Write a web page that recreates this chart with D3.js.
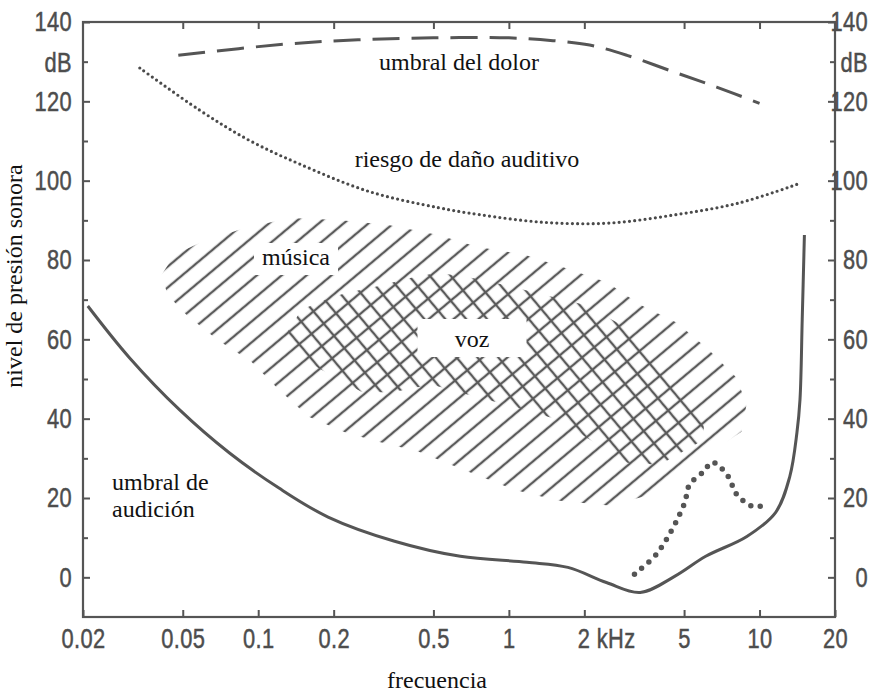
<!DOCTYPE html>
<html>
<head>
<meta charset="utf-8">
<script src="https://cdn.jsdelivr.net/npm/d3@7"></script>
<style>
    body { margin: 0; background: #fff; }
    .axis text { font-family: "Liberation Sans", Arial, sans-serif; font-size: 28px; fill: #4d4d4d; stroke: #4d4d4d; stroke-width: 0.5px; letter-spacing: 0.5px; }
    .axis line { stroke: #555; stroke-width: 2; }
    .lbl { font-family: "Liberation Serif", "Times New Roman", serif; font-size: 24px; fill: #111; }
</style>
</head>
<body>
<div id="chart"></div>
<script>
// ---- data (kHz, dB) ----
const xTicks = [0.02, 0.05, 0.1, 0.2, 0.5, 1, 2, 5, 10, 20];
const xTickLabels = ["0.02", "0.05", "0.1", "0.2", "0.5", "1", "2 kHz", "5", "10", "20"];
const yTicks = [0, 20, 40, 60, 80, 100, 120, 140];
const yMinorTicks = [10, 30, 50, 70, 90, 110, 130];

const painThreshold = [[0.048, 131.6], [0.127, 134.4], [0.25, 135.5], [0.5, 136], [1, 136], [1.5, 135.3],
    [2.1, 134.2], [2.96, 131.6], [4.55, 127.4], [6.74, 123.6], [10, 119.5]];
const damageRisk = [[0.0337, 128.4], [0.0583, 117.8], [0.0919, 110.2], [0.145, 104.3], [0.276, 97.3],
    [0.522, 93.2], [0.77, 91.4], [1.38, 89.5], [2.5, 89.3], [4.6, 91.4], [8.3, 94.4], [14.3, 99.2]];
const hearingThreshold = [[0.0209, 68.4], [0.0307, 55.3], [0.0486, 42.2], [0.0766, 31.4], [0.121, 22.5],
    [0.19, 15.2], [0.35, 9.1], [0.64, 5.3], [1.18, 3.8], [1.72, 2.5], [2.45, -1.3], [3.34, -3.8],
    [4.6, 0.3], [6.1, 5.3], [8.9, 10.3], [11.6, 16.4], [13.2, 25.4], [14.1, 36.5], [14.5, 44.8],
    [14.8, 65], [15.1, 86.3]];
const hearingDip = [[3.17, 0.8], [3.93, 6.3], [5.0, 18.4], [5.26, 23.4], [5.99, 26.7], [6.45, 29],
    [6.93, 27.9], [7.5, 25.4], [8.1, 20.9], [8.7, 19.1], [9.4, 17.9], [10.5, 18.1]];

const musicUpper = [[0.0412, 76.3], [0.0463, 81.3], [0.0583, 84.3], [0.084, 87.6], [0.1326, 90.6],
    [0.209, 90.1], [0.331, 88.8], [0.522, 86.3], [0.752, 83.3], [1.156, 81.3], [1.68, 78], [2.47, 74.3],
    [3.34, 68.7], [4.68, 64.2], [6.27, 57.4], [8.1, 50.3], [8.87, 43.5]];
const musicLower = [[8.47, 36.7], [5.61, 29.2], [3.46, 20.4], [2.51, 18.1], [1.56, 19.4], [1.05, 22.1],
    [0.686, 26.7], [0.435, 31.7], [0.302, 34.2], [0.223, 36.5], [0.159, 40.5], [0.121, 47.3],
    [0.0937, 54.4], [0.0687, 59.9], [0.0517, 66.2], [0.0435, 71.2]];
const voiceUpper = [[0.129, 61.2], [0.149, 67.5], [0.186, 70], [0.223, 71.7], [0.283, 73], [0.408, 75.5],
    [0.522, 76.8], [0.706, 75.5], [0.963, 73.7], [1.39, 71.2], [2.0, 68.7], [3.16, 61.9], [4.55, 51.9],
    [5.99, 38.5]];
const voiceLower = [[5.99, 34.7], [4.0, 28.4], [2.96, 28.9], [1.56, 39.8], [1.05, 43], [0.732, 45.6],
    [0.49, 48.6], [0.34, 46.6], [0.258, 46.8], [0.159, 54.1], [0.129, 58.6]];

// ---- layout ----
const width = 875, height = 694;
const plot = { left: 83, right: 835, top: 22, bottom: 617 };
const ink = "#555";
const squeeze = 0.78;   // tick font is a narrow one in the original

const x = d3.scaleLog().domain([0.02, 20]).range([plot.left, plot.right]);
const y = d3.scaleLinear().domain([-10, 140]).range([plot.bottom, plot.top]);

const svg = d3.select("#chart").append("svg")
    .attr("width", width)
    .attr("height", height);

const defs = svg.append("defs");
function hatch(id, angle) {
    defs.append("pattern")
        .attr("id", id)
        .attr("patternUnits", "userSpaceOnUse")
        .attr("width", 16).attr("height", 16)
        .attr("patternTransform", `rotate(${angle})`)
        .append("line")
        .attr("x1", 8).attr("y1", -1).attr("x2", 8).attr("y2", 17)
        .attr("stroke", "#5a5a5a").attr("stroke-width", 2.4);
}
hatch("hatchMusic", 50);
hatch("hatchVoice", -40);

// hatched regions
const region = d3.line().x(d => x(d[0])).y(d => y(d[1])).curve(d3.curveLinearClosed);
svg.append("path").attr("d", region(musicUpper.concat(musicLower))).attr("fill", "url(#hatchMusic)");
svg.append("path").attr("d", region(voiceUpper.concat(voiceLower))).attr("fill", "url(#hatchVoice)");

// frame
svg.append("rect")
    .attr("x", plot.left).attr("y", plot.top)
    .attr("width", plot.right - plot.left).attr("height", plot.bottom - plot.top)
    .attr("fill", "none").attr("stroke", ink).attr("stroke-width", 2.2);

// narrow tick text: place then squeeze horizontally around its own anchor
function squeezeText(sel, px, anchor) {
    sel.attr("text-anchor", anchor)
        .attr("x", px / squeeze)
        .attr("transform", `scale(${squeeze},1)`);
}

// axes, ticks inward
const gx = svg.append("g").attr("class", "axis")
    .attr("transform", `translate(0,${plot.bottom})`)
    .call(d3.axisBottom(x).tickValues(xTicks).tickFormat((d, i) => xTickLabels[i]).tickSize(-7));
gx.selectAll(".tick text").attr("y", 31).attr("dy", 0);
squeezeText(gx.selectAll(".tick text"), 0, "middle");
squeezeText(gx.selectAll(".tick text").filter(d => d === 2), -7, "start");

svg.append("g").attr("class", "axis")
    .attr("transform", `translate(0,${plot.top})`)
    .call(d3.axisTop(x).tickValues(xTicks.slice(1, -1)).tickFormat("").tickSize(-7));

const gl = svg.append("g").attr("class", "axis")
    .attr("transform", `translate(${plot.left},0)`)
    .call(d3.axisLeft(y).tickValues(yTicks).tickSize(-7));
squeezeText(gl.selectAll(".tick text"), -11, "end");
svg.append("g").attr("class", "axis")
    .attr("transform", `translate(${plot.left},0)`)
    .call(d3.axisLeft(y).tickValues(yMinorTicks).tickSize(-5).tickFormat(""));

const gr = svg.append("g").attr("class", "axis")
    .attr("transform", `translate(${plot.right},0)`)
    .call(d3.axisRight(y).tickValues(yTicks).tickSize(-7));
squeezeText(gr.selectAll(".tick text"), 33, "end");
svg.append("g").attr("class", "axis")
    .attr("transform", `translate(${plot.right},0)`)
    .call(d3.axisRight(y).tickValues(yMinorTicks).tickSize(-5).tickFormat(""));

svg.selectAll(".axis .domain").remove();

// dB unit under the 140 labels
squeezeText(gl.append("text").attr("y", y(129.8)).attr("dy", "0.35em").text("dB"), -11, "end");
squeezeText(gr.append("text").attr("y", y(129.8)).attr("dy", "0.35em").text("dB"), 33, "end");

// curves
const curve = d3.line().x(d => x(d[0])).y(d => y(d[1])).curve(d3.curveCatmullRom.alpha(0.5));

svg.append("path").attr("d", curve(painThreshold))
    .attr("fill", "none").attr("stroke", ink).attr("stroke-width", 3)
    .attr("stroke-dasharray", "27 12");

svg.append("path").attr("d", curve(damageRisk))
    .attr("fill", "none").attr("stroke", "#4a4a4a").attr("stroke-width", 3.2)
    .attr("stroke-linecap", "round").attr("stroke-dasharray", "0 5.2");

svg.append("path").attr("d", curve(hearingThreshold))
    .attr("fill", "none").attr("stroke", ink).attr("stroke-width", 3);

svg.append("path").attr("d", curve(hearingDip))
    .attr("fill", "none").attr("stroke", ink).attr("stroke-width", 5.5)
    .attr("stroke-linecap", "round").attr("stroke-dasharray", "0 9.5");

// labels
function label(text, lx, ly, anchor, boxW, boxH) {
    if (boxW) {
        svg.append("rect").attr("x", lx - boxW / 2).attr("y", ly - boxH + 10)
            .attr("width", boxW).attr("height", boxH).attr("fill", "#fff");
    }
    return svg.append("text").attr("class", "lbl")
        .attr("x", lx).attr("y", ly).attr("text-anchor", anchor).text(text);
}
label("umbral del dolor", 459, 70, "middle");
label("riesgo de daño auditivo", 467, 167, "middle");
label("música", 296, 265, "middle", 84, 32);
label("voz", 472, 347, "middle", 109, 38);
label("umbral de", 112, 490, "start");
label("audición", 112, 517, "start");

svg.append("text").attr("class", "lbl")
    .attr("transform", "translate(22,276) rotate(-90)")
    .attr("text-anchor", "middle").text("nivel de presión sonora");
svg.append("text").attr("class", "lbl")
    .attr("x", 437).attr("y", 688).attr("text-anchor", "middle").text("frecuencia");
</script>
</body>
</html>
